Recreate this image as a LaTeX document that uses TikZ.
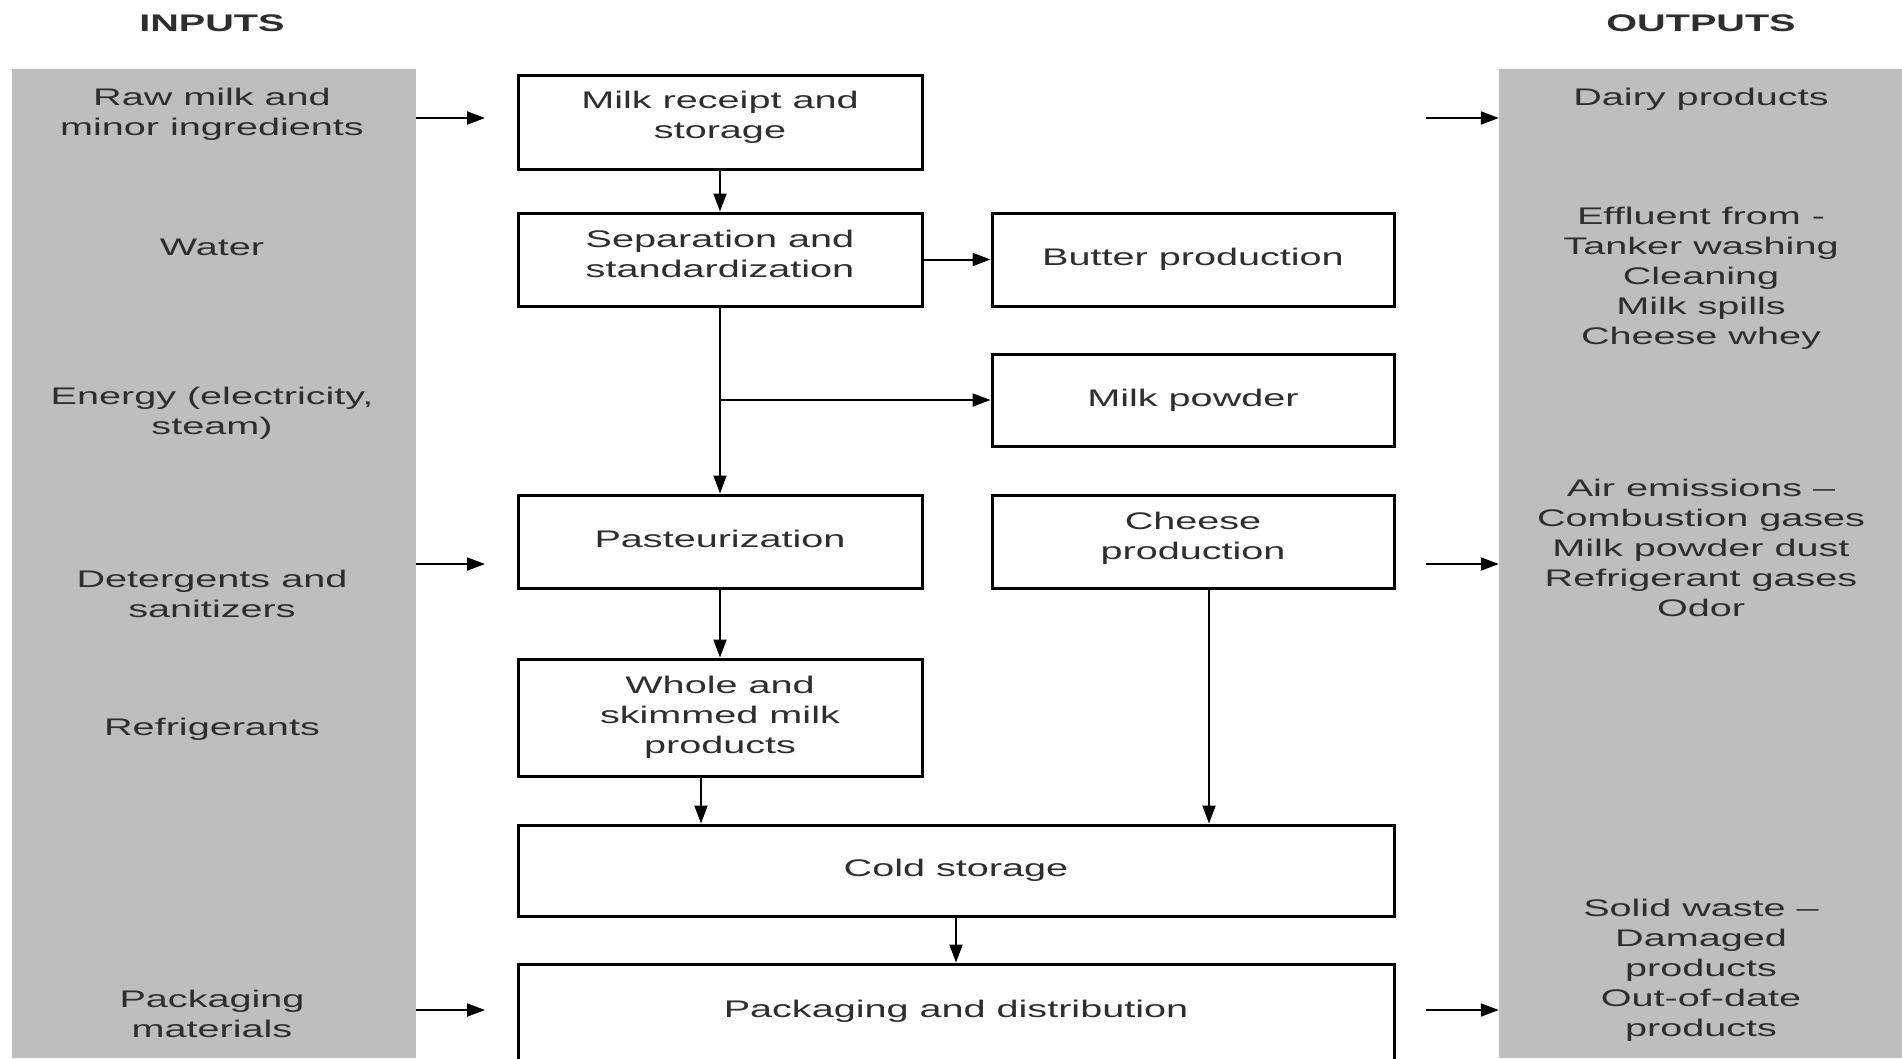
\documentclass[tikz,border=0pt]{standalone}
\usepackage{fontspec}
\setmainfont{Liberation Sans}[FakeStretch=1.65]
\usetikzlibrary{arrows.meta}
\definecolor{panelgray}{HTML}{BEBEBE}
\definecolor{txt}{HTML}{2E2E2E}
\begin{document}
\begin{tikzpicture}[x=1pt,y=-1pt,
  font=\fontsize{24}{30}\selectfont, text=txt,
  panel/.style={fill=panelgray, draw=none, inner sep=0pt},
  proc/.style={draw=black, line width=3pt, fill=white, align=center, inner sep=0pt},
  lbl/.style={align=center, inner sep=0pt},
  ttl/.style={font=\fontsize{24}{30}\selectfont\bfseries, inner sep=0pt},
  flow/.style={-{Triangle[length=18pt,width=13pt]}, line width=2pt, draw=black}]
\useasboundingbox (0,0) rectangle (1902,1058);
\fill[white] (0,0) rectangle (1902,1058);
\begin{scope}
\clip (0,0) rectangle (1902,1058);
% panels
\node[panel, minimum width=404pt, minimum height=989pt] (inpanel) at (214,563.5) {};
\node[panel, minimum width=403pt, minimum height=989pt] (outpanel) at (1700.5,563.5) {};
% titles
\node[ttl] (intitle) at (212,23) {INPUTS};
\node[ttl] (outtitle) at (1701,23) {OUTPUTS};
% input labels
\node[lbl] (rawmilk) at (212,114.5) {Raw milk and\\minor ingredients};
\node[lbl] (water) at (212,247.5) {Water};
\node[lbl] (energy) at (212,413) {Energy (electricity,\\steam)};
\node[lbl] (deterg) at (212,594) {Detergents and\\sanitizers};
\node[lbl] (refrig) at (212,729) {Refrigerants};
\node[lbl] (packmat) at (212,1014) {Packaging\\materials};
% output labels
\node[lbl] (dairy) at (1701,99.5) {Dairy products};
\node[lbl] (effluent) at (1701,278.5) {Effluent from -\\Tanker washing\\Cleaning\\Milk spills\\Cheese whey};
\node[lbl] (air) at (1701,548) {Air emissions --\\Combustion gases\\Milk powder dust\\Refrigerant gases\\Odor};
\node[lbl] (solid) at (1701,970.5) {Solid waste --\\Damaged\\products\\Out-of-date\\products};
% process boxes
\node[proc, minimum width=404pt, minimum height=94pt, text depth=15pt] (receipt) at (720,122) {Milk receipt and\\storage};
\node[proc, minimum width=404pt, minimum height=93pt, text depth=12pt] (sep) at (720,259.5) {Separation and\\standardization};
\node[proc, minimum width=402pt, minimum height=93pt] (butter) at (1193,259.5) {Butter production};
\node[proc, minimum width=402pt, minimum height=92pt] (powder) at (1193,400) {Milk powder};
\node[proc, minimum width=404pt, minimum height=93pt, text depth=5pt] (past) at (720,541.5) {Pasteurization};
\node[proc, minimum width=402pt, minimum height=93pt, text depth=11pt] (cheese) at (1193,541.5) {Cheese\\production};
\node[proc, minimum width=404pt, minimum height=117pt] (whole) at (720,717.5) {Whole and\\skimmed milk\\products};
\node[proc, minimum width=876pt, minimum height=91pt] (cold) at (956,870.5) {Cold storage};
\node[proc, minimum width=876pt, minimum height=104pt, text depth=15pt] (pack) at (956,1016) {Packaging and distribution};
% free ends of input/output arrows
\coordinate (i1) at (485,118);
\coordinate (i2) at (485,564);
\coordinate (i3) at (485,1010);
\coordinate (o1) at (1426,118);
\coordinate (o2) at (1426,564);
\coordinate (o3) at (1426,1010);
\draw[flow] (inpanel.east |- i1) -- (i1);
\draw[flow] (inpanel.east |- i2) -- (i2);
\draw[flow] (inpanel.east |- i3) -- (i3);
\draw[flow] (o1) -- (o1 -| outpanel.west);
\draw[flow] (o2) -- (o2 -| outpanel.west);
\draw[flow] (o3) -- (o3 -| outpanel.west);
% process flow
\draw[flow] (receipt) -- (sep);
\draw[flow] (sep) -- (butter);
\draw[flow] (sep) -- (past);
\draw[flow] (sep.south |- powder) -- (powder);
\draw[flow] (past) -- (whole);
\draw[flow] ([xshift=-19pt]whole.south) -- ([xshift=-19pt]whole.south |- cold.north);
\draw[flow] ([xshift=16pt]cheese.south) -- ([xshift=16pt]cheese.south |- cold.north);
\draw[flow] (cold) -- (pack);
\end{scope}
\end{tikzpicture}
\end{document}
